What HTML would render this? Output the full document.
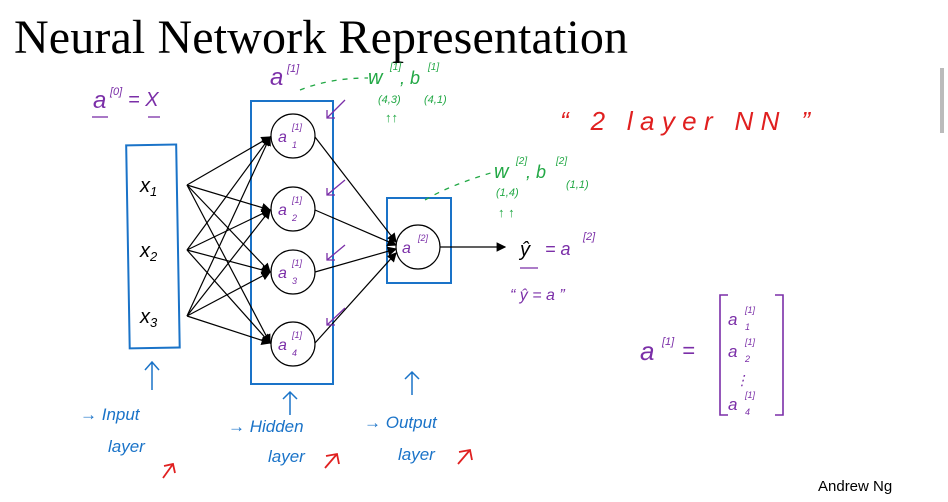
<!DOCTYPE html>
<html><head><style>
body{margin:0;background:#fff;}
svg{display:block}
text{font-family:"Liberation Sans",sans-serif}
.hw{font-family:"DejaVu Sans","Liberation Sans",sans-serif;font-style:italic}
</style></head><body>
<svg width="948" height="502" viewBox="0 0 948 502" xmlns="http://www.w3.org/2000/svg">
<defs><marker id="ah" markerWidth="8" markerHeight="8" refX="7" refY="4" orient="auto"><path d="M0,0 L8,4 L0,8 z" fill="#000"/></marker></defs>
<text x="14" y="53" font-size="48" textLength="614" style="font-family:'Liberation Serif',serif">Neural Network Representation</text>
<rect x="940" y="68" width="4" height="65" fill="#bbb"/>
<g fill="none" stroke="#1a73c8" stroke-width="2">
<rect x="128" y="145" width="50" height="203" transform="rotate(-1 150 250)"/>
<rect x="251" y="101" width="82" height="283"/>
<rect x="387" y="198" width="64" height="85"/>
</g>
<g stroke="#000" stroke-width="1.2" marker-end="url(#ah)">
<line x1="187" y1="185" x2="270" y2="137"/><line x1="187" y1="185" x2="270" y2="210"/><line x1="187" y1="185" x2="270" y2="272"/><line x1="187" y1="185" x2="270" y2="343"/>
<line x1="187" y1="250" x2="270" y2="137"/><line x1="187" y1="250" x2="270" y2="210"/><line x1="187" y1="250" x2="270" y2="272"/><line x1="187" y1="250" x2="270" y2="343"/>
<line x1="187" y1="316" x2="270" y2="137"/><line x1="187" y1="316" x2="270" y2="210"/><line x1="187" y1="316" x2="270" y2="272"/><line x1="187" y1="316" x2="270" y2="343"/>
<line x1="315" y1="137" x2="396" y2="242"/><line x1="315" y1="210" x2="396" y2="245"/><line x1="315" y1="272" x2="396" y2="249"/><line x1="315" y1="343" x2="396" y2="253"/>
<line x1="440" y1="247" x2="505" y2="247"/>
</g>
<g fill="#fff" stroke="#000" stroke-width="1.2">
<circle cx="293" cy="136" r="22"/><circle cx="293" cy="209" r="22"/><circle cx="293" cy="272" r="22"/><circle cx="293" cy="344" r="22"/><circle cx="418" cy="247" r="22"/>
</g>
<g font-size="20" style="font-family:'Liberation Serif',serif;font-style:italic">
<text x="140" y="192">x<tspan font-size="13" dy="4">1</tspan></text>
<text x="140" y="257">x<tspan font-size="13" dy="4">2</tspan></text>
<text x="140" y="323">x<tspan font-size="13" dy="4">3</tspan></text>
<text x="520" y="256">ŷ</text>
</g>
<g fill="#7b2fa8" class="hw">
<text x="278" y="142" font-size="16">a</text><text x="292" y="130" font-size="9">[1]</text><text x="292" y="148" font-size="9">1</text>
<text x="278" y="215" font-size="16">a</text><text x="292" y="203" font-size="9">[1]</text><text x="292" y="221" font-size="9">2</text>
<text x="278" y="278" font-size="16">a</text><text x="292" y="266" font-size="9">[1]</text><text x="292" y="284" font-size="9">3</text>
<text x="278" y="350" font-size="16">a</text><text x="292" y="338" font-size="9">[1]</text><text x="292" y="356" font-size="9">4</text>
<text x="402" y="253" font-size="16">a</text><text x="418" y="241" font-size="9">[2]</text>
<text x="93" y="108" font-size="24">a</text><text x="110" y="95" font-size="11">[0]</text><text x="128" y="106" font-size="20">= X</text>
<text x="270" y="85" font-size="24">a</text><text x="287" y="72" font-size="11">[1]</text>
<text x="545" y="255" font-size="18">= a</text><text x="583" y="240" font-size="11">[2]</text>
<text x="510" y="300" font-size="16">“ ŷ = a ”</text>
<text x="640" y="360" font-size="26">a</text><text x="662" y="345" font-size="11">[1]</text><text x="682" y="358" font-size="22">=</text>
<text x="728" y="325" font-size="17">a</text><text x="745" y="313" font-size="9">[1]</text><text x="745" y="330" font-size="9">1</text>
<text x="728" y="357" font-size="17">a</text><text x="745" y="345" font-size="9">[1]</text><text x="745" y="362" font-size="9">2</text>
<text x="735" y="385" font-size="14">⋮</text>
<text x="728" y="410" font-size="17">a</text><text x="745" y="398" font-size="9">[1]</text><text x="745" y="415" font-size="9">4</text>
</g>
<path d="M728,295 h-8 v120 h8 M775,295 h8 v120 h-8" fill="none" stroke="#7b2fa8" stroke-width="1.6"/>
<g stroke="#7b2fa8" stroke-width="1.3"><line x1="92" y1="117" x2="108" y2="117"/><line x1="148" y1="117" x2="160" y2="117"/><line x1="520" y1="268" x2="538" y2="268"/></g>
<g fill="#22a845" class="hw">
<text x="368" y="84" font-size="20">w</text><text x="390" y="70" font-size="10">[1]</text><text x="400" y="84" font-size="18">, b</text><text x="428" y="70" font-size="10">[1]</text>
<text x="378" y="103" font-size="11">(4,3)</text><text x="424" y="103" font-size="11">(4,1)</text>
<text x="385" y="122" font-size="13">↑↑</text>
<text x="494" y="178" font-size="20">w</text><text x="516" y="164" font-size="10">[2]</text><text x="526" y="178" font-size="18">, b</text><text x="556" y="164" font-size="10">[2]</text>
<text x="496" y="196" font-size="11">(1,4)</text><text x="566" y="188" font-size="11">(1,1)</text>
<text x="498" y="217" font-size="13">↑ ↑</text>
</g>
<g stroke="#22a845" stroke-width="1.3" fill="none" stroke-dasharray="5,6">
<path d="M300,90 Q330,78 368,78"/><path d="M425,200 Q450,185 494,172"/>
</g>
<g stroke="#7b2fa8" stroke-width="1.3" fill="none">
<path d="M345,100 L327,118 M327,110 v8 h8"/><path d="M345,180 L327,195 M327,188 v7 h8"/><path d="M345,245 L327,260 M327,253 v7 h8"/><path d="M345,308 L327,325 M327,318 v7 h8"/>
</g>
<g fill="#e02020" class="hw" font-size="26"><text x="560" y="130" textLength="250">“ 2  layer  NN ”</text></g>
<g fill="#1a73c8" class="hw" font-size="17">
<text x="80" y="420">→ Input</text><text x="108" y="452">layer</text>
<text x="228" y="432">→ Hidden</text><text x="268" y="462">layer</text>
<text x="364" y="428">→ Output</text><text x="398" y="460">layer</text>
</g>
<g stroke="#1a73c8" stroke-width="1.5" fill="none">
<path d="M152,390 V362 M145,370 l7,-8 l7,8"/><path d="M290,415 V392 M283,399 l7,-7 l7,7"/><path d="M412,395 V372 M405,379 l7,-7 l7,7"/>
</g>
<g stroke="#e02020" stroke-width="1.8" fill="none">
<path d="M163,478 l10,-14 M164,466 l9,-2 l2,9"/><path d="M325,468 l12,-14 M326,456 l11,-2 l2,10"/><path d="M458,464 l12,-14 M459,452 l11,-2 l2,10"/>
</g>
<text x="818" y="491" font-size="15">Andrew Ng</text>
</svg>
</body></html>
